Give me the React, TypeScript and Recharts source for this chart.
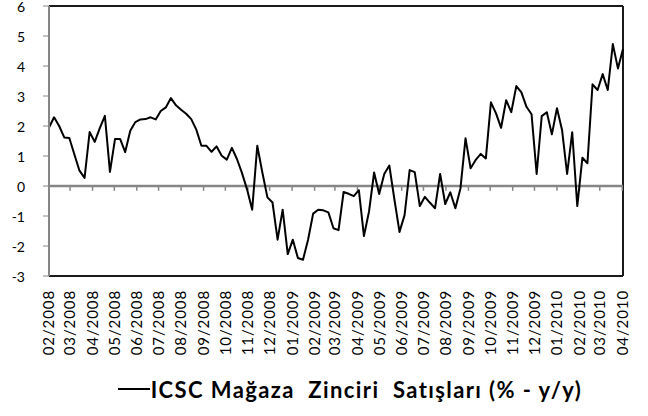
import { LineChart, Line, XAxis, YAxis, ReferenceLine, Legend } from "recharts";

// weekly ICSC chain store sales, % y/y
const monthLabels = [
  "02/2008", "03/2008", "04/2008", "05/2008", "06/2008", "07/2008", "08/2008",
  "09/2008", "10/2008", "11/2008", "12/2008", "01/2009", "02/2009", "03/2009",
  "04/2009", "05/2009", "06/2009", "07/2009", "08/2009", "09/2009", "10/2009",
  "11/2009", "12/2009", "01/2010", "02/2010", "03/2010", "04/2010",
];

const weeklySales = [
  1.95, 2.29, 2.0, 1.62, 1.6, 1.05, 0.51, 0.27, 1.8, 1.47,
  1.93, 2.34, 0.47, 1.57, 1.57, 1.13, 1.84, 2.13, 2.22, 2.23,
  2.29, 2.22, 2.5, 2.62, 2.93, 2.69, 2.54, 2.41, 2.23, 1.88,
  1.34, 1.34, 1.14, 1.32, 1.01, 0.88, 1.27, 0.9, 0.43, -0.12,
  -0.79, 1.34, 0.45, -0.38, -0.55, -1.79, -0.79, -2.27, -1.79, -2.4,
  -2.46, -1.79, -0.92, -0.79, -0.81, -0.88, -1.41, -1.47, -0.2, -0.26,
  -0.34, -0.14, -1.67, -0.85, 0.45, -0.27, 0.4, 0.68, -0.45, -1.53,
  -0.97, 0.53, 0.46, -0.67, -0.36, -0.56, -0.74, 0.4, -0.6, -0.21,
  -0.74, -0.08, 1.59, 0.59, 0.87, 1.07, 0.92, 2.79, 2.42, 1.94,
  2.86, 2.46, 3.33, 3.12, 2.64, 2.39, 0.4, 2.33, 2.46, 1.72,
  2.59, 1.87, 0.4, 1.79, -0.67, 0.94, 0.76, 3.39, 3.2, 3.73,
  3.2, 4.73, 3.92, 4.57,
];

const yTicks = [-3, -2, -1, 0, 1, 2, 3, 4, 5, 6];
const seriesName = "ICSC Mağaza  Zinciri  Satışları (% - y/y)";

const DAY = 86400000;
const start = Date.UTC(2008, 1, 1);

// days since 1 Feb 2008 for each month label
const monthDays = monthLabels.map((l) => {
  const [m, y] = l.split("/");
  return Math.round((Date.UTC(+y, +m - 1, 1) - start) / DAY);
});

const data = weeklySales.map((v, i) => ({ day: i * 7, value: v }));
const lastDay = (weeklySales.length - 1) * 7;

const FONT = "Lato, 'Open Sans', sans-serif";

const MonthTick = ({ x, y, payload }: any) => {
  const idx = monthDays.indexOf(payload.value);
  return (
    <g transform={`translate(${x},${y})`}>
      <text
        transform="rotate(-90)"
        x={-6}
        y={0}
        dy="0.36em"
        textAnchor="end"
        fontSize={15}
        letterSpacing={0.9}
        fontFamily={FONT}
        fill="#000"
      >
        {monthLabels[idx]}
      </text>
    </g>
  );
};

const ValueTick = ({ x, y, payload }: any) => (
  <text
    x={x}
    y={y + 1}
    dy="0.35em"
    textAnchor="end"
    fontSize={14}
    fontFamily={FONT}
    fill="#000"
  >
    {payload.value}
  </text>
);

const LegendContent = () => (
  <div
    style={{
      display: "flex",
      alignItems: "center",
      justifyContent: "center",
      boxSizing: "border-box",
      height: 40,
      paddingLeft: 77,
      paddingBottom: 14,
      fontFamily: FONT,
      fontWeight: 700,
      fontSize: 22,
      letterSpacing: 1.4,
      color: "#000",
    }}
  >
    <svg width={32} height={4} style={{ marginRight: 1 }}>
      <line x1={0} y1={2} x2={32} y2={2} stroke="#000" strokeWidth={2} />
    </svg>
    <span style={{ whiteSpace: "pre" }}>{seriesName}</span>
  </div>
);

export default function App() {
  return (
    <div style={{ position: "absolute", left: 0, top: 0, background: "#fff" }}>
      <LineChart
        width={648}
        height={416}
        data={data}
        margin={{ top: 6, right: 25, left: 0, bottom: 0 }}
      >
        <XAxis
          dataKey="day"
          type="number"
          domain={[0, lastDay]}
          ticks={monthDays}
          interval={0}
          axisLine={false}
          tickLine={false}
          height={100}
          tick={<MonthTick />}
        />
        <YAxis
          domain={[-3, 6]}
          ticks={yTicks}
          interval={0}
          width={49}
          axisLine={{ stroke: "#868686", strokeWidth: 2 }}
          tickLine={{ stroke: "#868686" }}
          tickSize={6}
          tickMargin={18}
          tick={<ValueTick />}
        />
        <ReferenceLine y={6} stroke="#1a1a1a" strokeWidth={2} />
        <ReferenceLine y={-3} stroke="#1a1a1a" strokeWidth={2} />
        <ReferenceLine x={lastDay} stroke="#1a1a1a" strokeWidth={2} />
        <ReferenceLine y={0} stroke="#868686" strokeWidth={2.5} />
        {monthDays.map((d) => (
          <ReferenceLine
            key={d}
            segment={[
              { x: d, y: 0 },
              { x: d, y: -0.16 },
            ]}
            stroke="#868686"
            strokeWidth={1.5}
          />
        ))}
        <Legend verticalAlign="bottom" content={<LegendContent />} />
        <Line
          type="linear"
          dataKey="value"
          name={seriesName}
          stroke="#000"
          strokeWidth={2}
          dot={false}
          strokeLinejoin="round"
          isAnimationActive={false}
        />
      </LineChart>
    </div>
  );
}
